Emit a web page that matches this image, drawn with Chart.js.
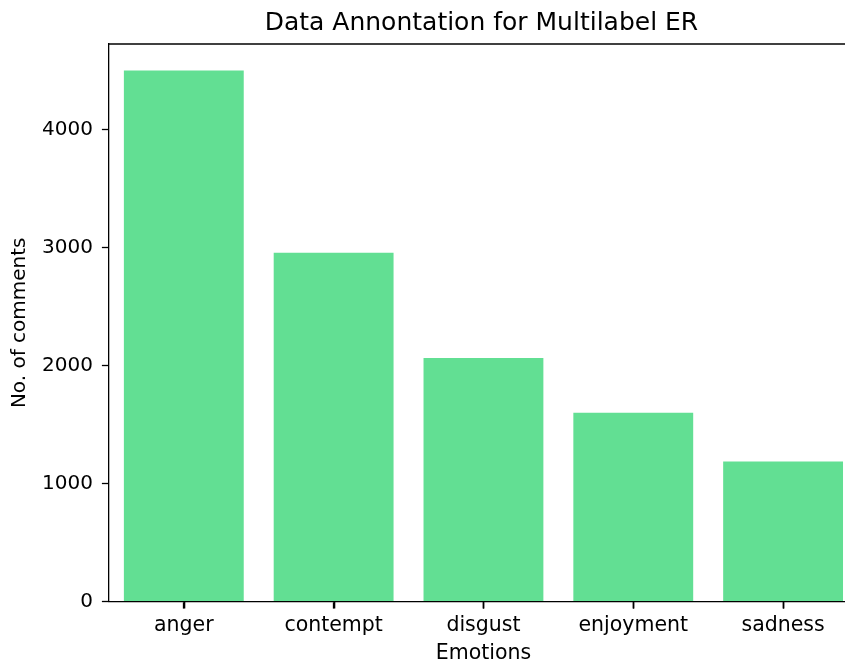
<!DOCTYPE html>
<html>
<head>
<meta charset="utf-8">
<script src="https://cdn.jsdelivr.net/npm/chart.js@4/dist/chart.umd.min.js"></script>
<style>
  html, body { margin: 0; padding: 0; background: #fff; overflow: hidden; }
  #wrap { width: 860px; height: 667px; }
</style>
</head>
<body>
<div id="wrap"><canvas id="chart"></canvas></div>
<script>
let emotions = ['anger', 'contempt', 'disgust', 'enjoyment', 'sadness'];
let comments = [4500, 2955, 2064, 1599, 1186];
let yTicks = [0, 1000, 2000, 3000, 4000];
let titleText = 'Data Annontation for Multilabel ER';

// matplotlib keeps the top spine, ticks sit under the bar centres,
// and the title is centred over the axes
const extras = {
    id: 'extras',
    afterDraw(c) {
        let a = c.chartArea;
        let g = c.ctx;
        let xs = c.scales.x;
        g.save();
        g.strokeStyle = '#000';
        g.lineWidth = 1.3;
        g.beginPath();
        g.moveTo(a.left, a.top);
        g.lineTo(a.right, a.top);
        g.stroke();

        g.lineWidth = 1.6;
        g.beginPath();
        for (let i = 0; i < emotions.length; i++) {
            let px = Math.round(xs.getPixelForValue(i)) + 0.5;
            g.moveTo(px, a.bottom);
            g.lineTo(px, a.bottom + 7);
        }
        g.stroke();

        g.fillStyle = '#000';
        g.font = '25px "DejaVu Sans"';
        g.textAlign = 'center';
        g.textBaseline = 'middle';
        g.fillText(titleText, (a.left + a.right) / 2 - 2, 23);
        g.restore();
    }
};

Chart.defaults.font.family = 'DejaVu Sans';
Chart.defaults.color = '#000';

var ctx = document.getElementById('chart').getContext('2d');
var chart = new Chart(ctx, {
    type: 'bar',
    data: {
        labels: emotions,
        datasets: [{
            data: comments,
            backgroundColor: '#62df93',
            barPercentage: 0.8,
            categoryPercentage: 1.0
        }]
    },
    options: {
        responsive: true,
        maintainAspectRatio: false,
        animation: false,
        layout: { padding: { left: 0, right: 2, bottom: 0, top: 44 } },
        plugins: {
            legend: { display: false },
            tooltip: { enabled: false },
            title: { display: false }
        },
        scales: {
            x: {
                grid: { drawOnChartArea: false, drawTicks: true, tickLength: 7, color: '#000', tickWidth: 1.3, offset: false },
                border: { display: true, color: '#000', width: 1.3 },
                ticks: { font: { size: 20.5, lineHeight: 1.0 }, padding: 6.7 },
                title: { display: true, text: 'Emotions', font: { size: 20.5, lineHeight: 1.1 }, padding: { top: 0, bottom: 2 } }
            },
            y: {
                min: 0,
                max: 4725,
                grid: { drawOnChartArea: false, drawTicks: true, tickLength: 7, color: '#000', tickWidth: 1.3 },
                border: { display: true, color: '#000', width: 1.3 },
                ticks: {
                    font: { size: 20 },
                    padding: 9,
                    callback: function(v) { return String(v); }
                },
                afterBuildTicks: function(axis) {
                    axis.ticks = yTicks.map(v => ({ value: v }));
                },
                title: { display: true, text: 'No. of comments', font: { size: 20 }, padding: { top: 8, bottom: 1 } }
            }
        }
    },
    plugins: [extras]
});
</script>
</body>
</html>
